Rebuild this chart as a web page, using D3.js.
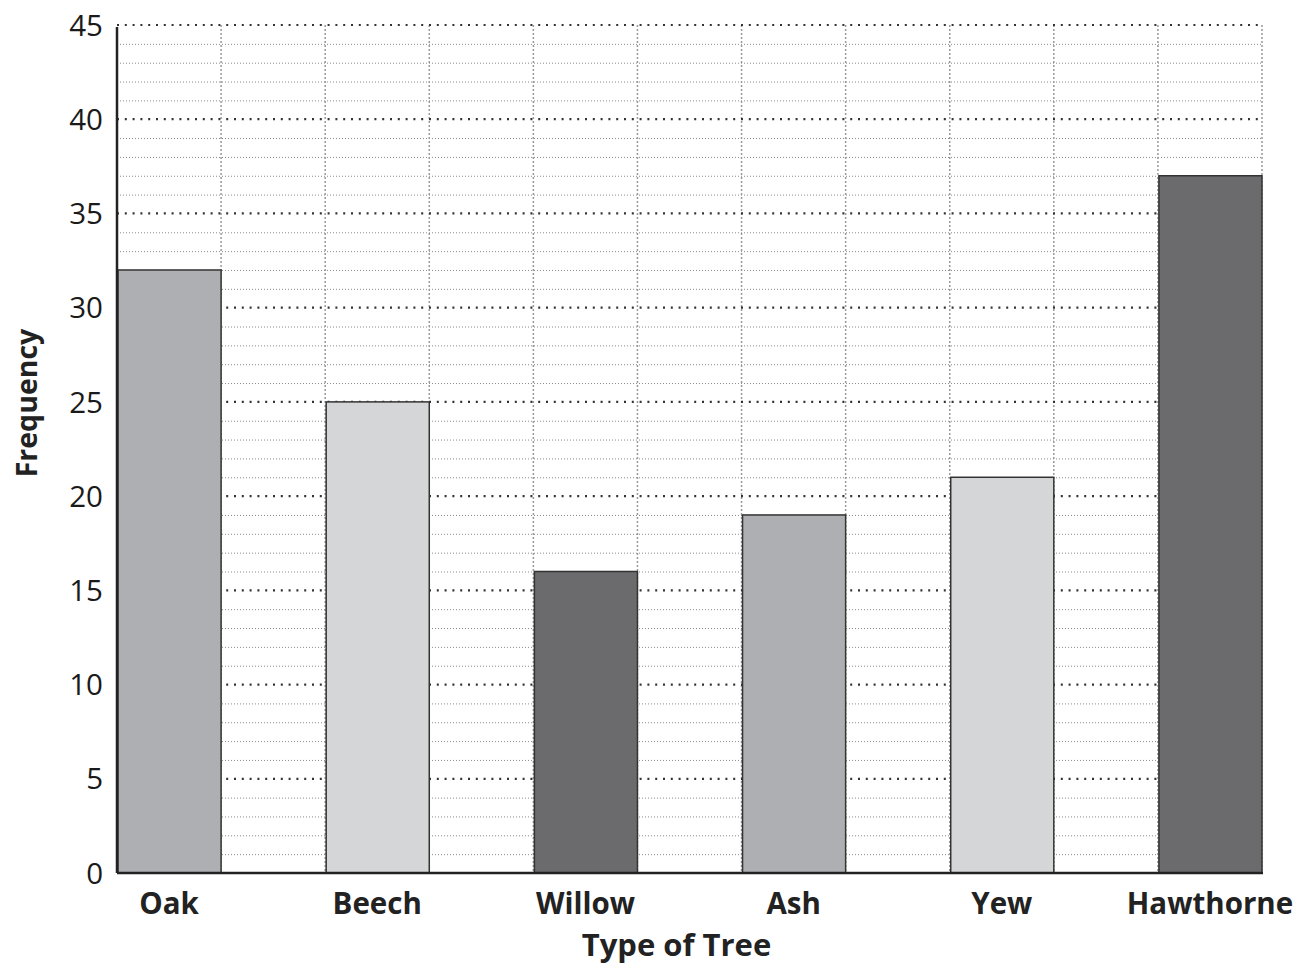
<!DOCTYPE html>
<html>
<head>
<meta charset="utf-8">
<script src="https://cdn.jsdelivr.net/npm/d3@7"></script>
<style>
  html, body { margin: 0; padding: 0; background: #fff; }
  svg { display: block; }
</style>
</head>
<body>
<div id="chart"></div>
<script>
const categories = ["Oak", "Beech", "Willow", "Ash", "Yew", "Hawthorne"];
const frequencies = [32, 25, 16, 19, 21, 37];
const barColors = ["#aeafb2", "#d5d6d8", "#6b6b6d", "#aeafb2", "#d5d6d8", "#6b6b6d"];
const yTicks = [0, 5, 10, 15, 20, 25, 30, 35, 40, 45];
const xTitle = "Type of Tree";
const yTitle = "Frequency";

const W = 1298, H = 970;
const margin = { left: 117, right: 36, top: 25, bottom: 97 };

const svg = d3.select("#chart").append("svg").attr("width", W).attr("height", H);

const x = d3.scaleBand().domain(categories)
  .range([margin.left, W - margin.right])
  .paddingInner(0.5).paddingOuter(0);
const y = d3.scaleLinear().domain([0, 45]).range([H - margin.bottom, margin.top]);

const x0 = margin.left, x1 = W - margin.right;

// minor horizontal gridlines (every unit)
const minor = d3.range(1, 45).filter(v => v % 5 !== 0);
svg.append("g").selectAll("line").data(minor).join("line")
  .attr("x1", x0).attr("x2", x1)
  .attr("y1", d => y(d) + 0.5).attr("y2", d => y(d) + 0.5)
  .attr("stroke", "#8a8a8a").attr("stroke-width", 1)
  .attr("stroke-dasharray", "1,2");

// vertical gridlines at band edges
const vx = [];
categories.forEach(c => { vx.push(x(c)); vx.push(x(c) + x.bandwidth()); });
svg.append("g").selectAll("line").data(vx.slice(1)).join("line")
  .attr("x1", d => d).attr("x2", d => d)
  .attr("y1", y(45)).attr("y2", y(0))
  .attr("stroke", "#999").attr("stroke-width", 1.5)
  .attr("stroke-dasharray", "2,2");

// major horizontal gridlines (every 5)
svg.append("g").selectAll("line").data(yTicks.filter(v => v > 0)).join("line")
  .attr("x1", x0).attr("x2", x1)
  .attr("y1", d => y(d)).attr("y2", d => y(d))
  .attr("stroke", "#333").attr("stroke-width", 2.2)
  .attr("stroke-dasharray", "2,5.8");

// bars
svg.append("g").selectAll("rect").data(categories).join("rect")
  .attr("x", d => x(d) + 1)
  .attr("y", (d, i) => y(frequencies[i]))
  .attr("width", x.bandwidth() - 1)
  .attr("height", (d, i) => y(0) - y(frequencies[i]))
  .attr("fill", (d, i) => barColors[i])
  .attr("stroke", "#333").attr("stroke-width", 1.5);

// axes lines
svg.append("line").attr("x1", x0).attr("x2", x0).attr("y1", y(45) + 2).attr("y2", y(0))
  .attr("stroke", "#222").attr("stroke-width", 2.5);
svg.append("line").attr("x1", x0).attr("x2", x1 + 1).attr("y1", y(0)).attr("y2", y(0))
  .attr("stroke", "#222").attr("stroke-width", 2.5);

// y tick labels
svg.append("g").selectAll("text").data(yTicks).join("text")
  .attr("x", 103).attr("y", d => y(d))
  .attr("dy", "0.36em")
  .attr("text-anchor", "end")
  .attr("font-family", "Open Sans, sans-serif")
  .attr("font-size", 29.5)
  .attr("fill", "#1a1a1a")
  .text(d => d);

// x category labels
svg.append("g").selectAll("text").data(categories).join("text")
  .attr("x", d => x(d) + x.bandwidth() / 2)
  .attr("y", 914)
  .attr("text-anchor", "middle")
  .attr("font-family", "Open Sans, sans-serif")
  .attr("font-weight", "bold")
  .attr("font-size", 29.5)
  .attr("fill", "#222")
  .text(d => d);

// axis titles
svg.append("text")
  .attr("x", (x0 + x1) / 2 - 13).attr("y", 956)
  .attr("text-anchor", "middle")
  .attr("font-family", "Open Sans, sans-serif")
  .attr("font-weight", "bold")
  .attr("font-size", 31)
  .attr("fill", "#222")
  .text(xTitle);

svg.append("text")
  .attr("transform", `translate(37, ${(y(0) + y(45)) / 2 - 46}) rotate(-90)`)
  .attr("text-anchor", "middle")
  .attr("font-family", "Open Sans, sans-serif")
  .attr("font-weight", "bold")
  .attr("font-size", 28.5)
  .attr("fill", "#222")
  .text(yTitle);
</script>
</body>
</html>
